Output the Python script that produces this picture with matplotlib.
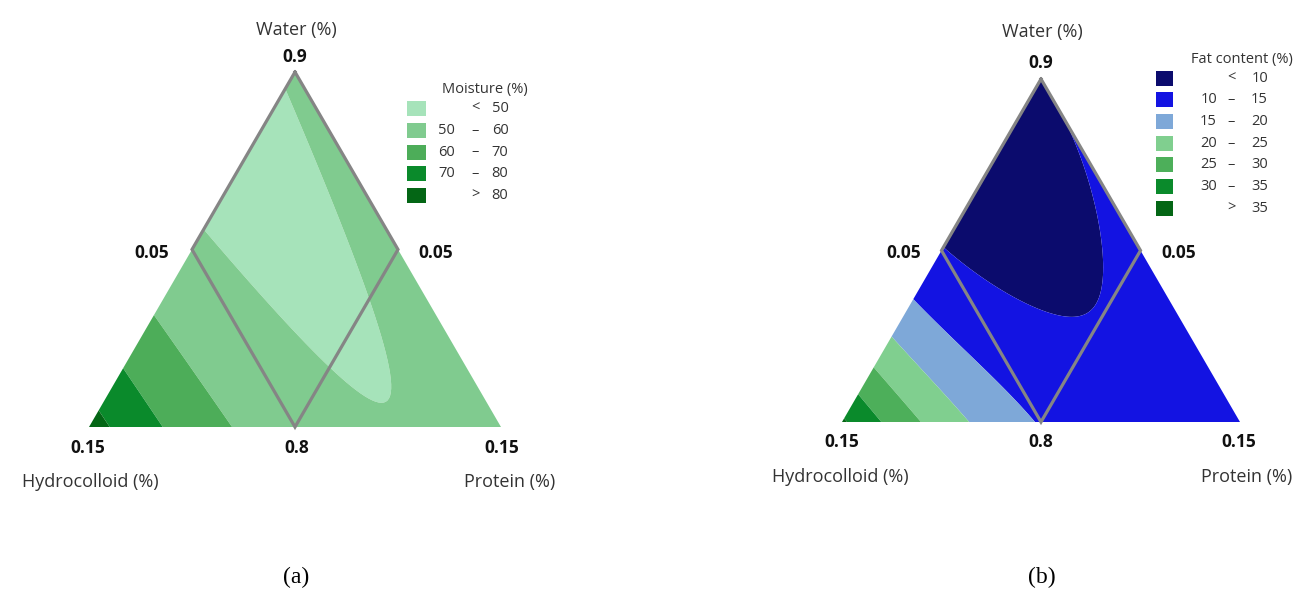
import numpy as np
import matplotlib
matplotlib.use('Agg')
import matplotlib.pyplot as plt
import matplotlib.tri as mtri
from matplotlib.patches import Rectangle

plt.rcParams['font.family'] = ['Open Sans', 'DejaVu Sans']

# mixture ranges (fractions)
water_lo, water_hi = 0.80, 0.90
hydro_lo, hydro_hi = 0.05, 0.15
prot_lo, prot_hi = 0.05, 0.15

# contour boundaries: (hydrocolloid, protein) fractions, water = rest
moist_50 = [(0.0945, 0.0500), (0.0912, 0.0645), (0.0883, 0.0778), (0.0861, 0.0885),
            (0.0837, 0.0974), (0.0808, 0.1059), (0.0783, 0.1131), (0.0744, 0.1189),
            (0.0722, 0.1183), (0.0689, 0.1150), (0.0658, 0.1087), (0.0644, 0.1008),
            (0.0627, 0.0894), (0.0605, 0.0840), (0.0582, 0.0769), (0.0566, 0.0654),
            (0.0554, 0.0511)]
moist_60 = [(0.1185, 0.0500), (0.1158, 0.0842)]
moist_70 = [(0.1334, 0.0500), (0.1320, 0.0680)]
moist_80 = [(0.1457, 0.0500), (0.1445, 0.0555)]

fat_10 = [(0.0994, 0.0500), (0.0930, 0.0648), (0.0871, 0.0774), (0.0840, 0.0835),
          (0.0809, 0.0880), (0.0751, 0.0947), (0.0706, 0.0969), (0.0665, 0.0961),
          (0.0622, 0.0927), (0.0587, 0.0884), (0.0551, 0.0823), (0.0519, 0.0749),
          (0.0504, 0.0667), (0.0501, 0.0600)]
fat_15 = [(0.1140, 0.0500), (0.1076, 0.0744), (0.1015, 0.0985)]
fat_20 = [(0.1252, 0.0500), (0.1217, 0.0659), (0.1178, 0.0822)]
fat_25 = [(0.1339, 0.0500), (0.1320, 0.0599), (0.1304, 0.0696)]
fat_30 = [(0.1420, 0.0500), (0.1400, 0.0600)]

moist_levels = [50, 60, 70, 80]
moist_colors = ['#a6e3ba', '#80cb8f', '#4dad59', '#0a8a2b', '#046615']
fat_levels = [10, 15, 20, 25, 30, 35]
fat_colors = ['#0b0b6d', '#1313e2', '#7ea8d8', '#80cf8f', '#4daf5a', '#0a8a2b', '#046615']

# constrained region drawn in grey (hydrocolloid <= 0.10 and protein <= 0.10)
region = [(0.05, 0.05), (0.10, 0.05), (0.10, 0.10), (0.05, 0.10), (0.05, 0.05)]


def pseudo(H, P):
    h = (np.asarray(H) - hydro_lo) / (hydro_hi - hydro_lo)
    p = (np.asarray(P) - prot_lo) / (prot_hi - prot_lo)
    return h, p


def to_xy(h, p):
    w = 1 - h - p
    return p + w / 2, w * np.sqrt(3) / 2


def terms(h, p, deg):
    return np.column_stack([h**i * p**j for i in range(deg + 1) for j in range(deg + 1 - i)])


def fit_surface(readings, deg):
    hs, ps, zs = [], [], []
    for level, pts in readings:
        for H, P in pts:
            h, p = pseudo(H, P)
            hs.append(h)
            ps.append(p)
            zs.append(level)
    A = terms(np.array(hs), np.array(ps), deg)
    coef = np.linalg.lstsq(A, np.array(zs, float), rcond=None)[0]
    return coef


n = 160
ii, jj = np.meshgrid(np.arange(n + 1), np.arange(n + 1))
keep = ii + jj <= n
gh = ii[keep] / n
gp = jj[keep] / n
gx, gy = to_xy(gh, gp)
tri = mtri.Triangulation(gx, gy)

fig = plt.figure(figsize=(13, 5.96), dpi=100)
W_PX, H_PX = 1300, 596


def panel(corners, readings, deg, levels, colors):
    (blx, bly), (brx, bry), (ax_, ay_) = corners
    ax = fig.add_axes([blx / W_PX, 1 - bly / H_PX, (brx - blx) / W_PX, (bly - ay_) / H_PX])
    ax.set_xlim(0, 1)
    ax.set_ylim(0, np.sqrt(3) / 2)
    ax.axis('off')
    coef = fit_surface(readings, deg)
    z = terms(gh, gp, deg) @ coef
    ax.tricontourf(tri, z, levels=[-1e4] + levels + [1e4], colors=colors, antialiased=True)
    rh, rp = pseudo([r[0] for r in region], [r[1] for r in region])
    rx, ry = to_xy(rh, rp)
    ax.plot(rx, ry, color='#858585', lw=2.3, solid_joinstyle='miter', clip_on=False)
    return ax


def corner_labels(ax, off):
    top = to_xy(0.0, 0.0)
    lmid = to_xy(0.5, 0.0)
    rmid = to_xy(0.0, 0.5)
    bl = to_xy(1.0, 0.0)
    bmid = to_xy(0.5, 0.5)
    br = to_xy(0.0, 1.0)
    num = dict(fontsize=12.5, fontweight='bold', ha='center', va='center',
               textcoords='offset pixels', color='#111111')
    lab = dict(fontsize=13, ha='center', va='center', textcoords='offset pixels', color='#333333')
    ax.annotate('Water (%)', top, xytext=off['water'], **lab)
    ax.annotate(f'{water_hi:g}', top, xytext=off['top'], **num)
    ax.annotate(f'{hydro_lo:g}', lmid, xytext=off['lmid'], **num)
    ax.annotate(f'{prot_lo:g}', rmid, xytext=off['rmid'], **num)
    ax.annotate(f'{hydro_hi:g}', bl, xytext=off['bl'], **num)
    ax.annotate(f'{water_lo:g}', bmid, xytext=off['bmid'], **num)
    ax.annotate(f'{prot_hi:g}', br, xytext=off['br'], **num)
    ax.annotate('Hydrocolloid (%)', bl, xytext=off['hyd'], **lab)
    ax.annotate('Protein (%)', br, xytext=off['pro'], **lab)


moist_read = [(50, moist_50), (60, moist_60), (70, moist_70), (80, moist_80)]
fat_read = [(10, fat_10), (15, fat_15), (20, fat_20), (25, fat_25), (30, fat_30)]

ax1 = panel([(89, 427), (501, 427), (295, 72)], moist_read, 2, moist_levels, moist_colors)
corner_labels(ax1, dict(water=(1, 42), top=(0, 15), lmid=(-40, -3), rmid=(38, -3),
                        bl=(-1, -21), bmid=(2, -21), br=(1, -21), hyd=(1, -55), pro=(9, -55)))

ax2 = panel([(842, 422), (1240, 422), (1041, 79)], fat_read, 3, fat_levels, fat_colors)
corner_labels(ax2, dict(water=(1, 47), top=(0, 16), lmid=(-38, -3), rmid=(38, -3),
                        bl=(0, -20), bmid=(0, -20), br=(-1, -20), hyd=(-2, -55), pro=(7, -55)))

# overlay in pixel units for legends and panel tags
ov = fig.add_axes([0, 0, 1, 1])
ov.set_xlim(0, W_PX)
ov.set_ylim(H_PX, 0)
ov.axis('off')
ov.patch.set_alpha(0)


def legend(title, title_xy, levels, colors, sw_x, sw_w, y0, dy, cols):
    ov.text(title_xy[0], title_xy[1], title, fontsize=10.5, ha='center', va='center', color='#333333')
    x_left, x_dash, x_right = cols
    for i, c in enumerate(colors):
        y = y0 + i * dy
        ov.add_patch(Rectangle((sw_x, y - 7.5), sw_w, 15, facecolor=c, edgecolor='none'))
        kw = dict(fontsize=10.5, va='center', color='#333333')
        if i == 0:
            ov.text(x_dash, y, '<', ha='center', **kw)
            ov.text(x_right, y, f'{levels[0]}', ha='right', **kw)
        elif i == len(colors) - 1:
            ov.text(x_dash, y, '>', ha='center', **kw)
            ov.text(x_right, y, f'{levels[-1]}', ha='right', **kw)
        else:
            ov.text(x_left, y, f'{levels[i - 1]}', ha='right', **kw)
            ov.text(x_dash, y, '–', ha='center', **kw)
            ov.text(x_right, y, f'{levels[i]}', ha='right', **kw)


legend('Moisture (%)', (484.5, 89), moist_levels, moist_colors, 407, 19, 108.3, 21.85, (455, 475, 508.5))
legend('Fat content (%)', (1241.7, 60), fat_levels, fat_colors, 1156, 17, 78.3, 21.67, (1217, 1231, 1268))

ov.text(296, 577, '(a)', fontsize=17, ha='center', va='center', family='Liberation Serif')
ov.text(1042, 577, '(b)', fontsize=17, ha='center', va='center', family='Liberation Serif')

fig.savefig('out.png', dpi=100)
